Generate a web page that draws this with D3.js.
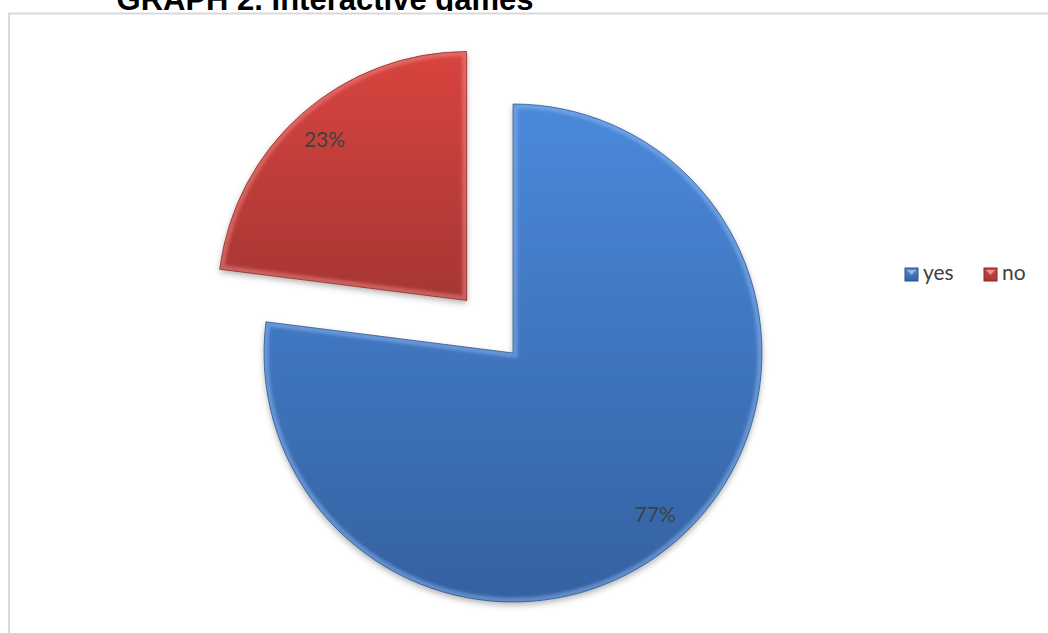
<!DOCTYPE html>
<html>
<head>
<meta charset="utf-8">
<script src="https://cdn.jsdelivr.net/npm/d3@7"></script>
<style>
  html, body { margin: 0; padding: 0; background: #fff; }
  svg { display: block; }
</style>
</head>
<body>
<svg id="chart" width="1048" height="633"></svg>
<script>
// Survey answers for the interactive games question
const categories = ["yes", "no"];
const values = [77, 23];
const labels = ["77%", "23%"];
const title = "GRAPH 2. Interactive games";

const W = 1048, H = 633;
const svg = d3.select("#chart");

const colors = d3.scaleOrdinal().domain(categories).range(["#4a89db", "#d9443f"]);
const darkColors = d3.scaleOrdinal().domain(categories).range(["#3461a0", "#a53633"]);
const edgeColors = d3.scaleOrdinal().domain(categories).range(["#2a5189", "#862826"]);
const lightColors = d3.scaleOrdinal().domain(categories).range(["#8fb8ef", "#f08a86"]);

const defs = svg.append("defs");

// Top-to-bottom gradient across each slice's own box
categories.forEach(c => {
  const g = defs.append("linearGradient")
    .attr("id", "grad-" + c)
    .attr("x1", 0).attr("y1", 0).attr("x2", 0).attr("y2", 1);
  g.append("stop").attr("offset", "0%").attr("stop-color", colors(c));
  g.append("stop").attr("offset", "100%").attr("stop-color", darkColors(c));
});

// Drop shadow under the slices
const shadow = defs.append("filter").attr("id", "shadow")
  .attr("x", "-10%").attr("y", "-10%").attr("width", "120%").attr("height", "125%");
shadow.append("feDropShadow").attr("dx", 0).attr("dy", 3)
  .attr("stdDeviation", 3).attr("flood-color", "#000").attr("flood-opacity", 0.3);

// Blur for the inner bevel rim
defs.append("filter").attr("id", "soft")
  .append("feGaussianBlur").attr("stdDeviation", 1.6);

// Title sits above the chart frame and is partly covered by it
svg.append("text")
  .attr("x", 325).attr("y", 10)
  .attr("text-anchor", "middle")
  .attr("font-family", "Liberation Sans, Arial, sans-serif")
  .attr("font-weight", "bold")
  .attr("font-size", 31)
  .attr("fill", "#000")
  .text(title);

// Chart area frame
svg.append("rect")
  .attr("x", 0).attr("y", 11)
  .attr("width", W).attr("height", H)
  .attr("fill", "#fff");
svg.append("rect")
  .attr("x", 9).attr("y", 13.5)
  .attr("width", W + 20).attr("height", H + 20)
  .attr("fill", "#fff")
  .attr("stroke", "#d9d9d9").attr("stroke-width", 2);

// Pie
const cx = 513, cy = 353, radius = 249;
const explode = { no: 70, yes: 0 };
const labelRadius = 215;

const pie = d3.pie().sort(null).value(d => d.value);
const data = pie(categories.map((c, i) => ({ cat: c, value: values[i], label: labels[i] })));
const arc = d3.arc().innerRadius(0).outerRadius(radius);
const labelArc = d3.arc().innerRadius(labelRadius).outerRadius(labelRadius);

const offset = d => {
  const a = (d.startAngle + d.endAngle) / 2;
  const e = explode[d.data.cat];
  return [Math.sin(a) * e, -Math.cos(a) * e];
};

const slices = svg.append("g").attr("transform", `translate(${cx},${cy})`);

// Clip paths, one per slice, to keep the bevel rim inside
data.forEach(d => {
  defs.append("clipPath").attr("id", "clip-" + d.data.cat)
    .append("path").attr("d", arc(d));
});

const sliceG = slices.selectAll("g.slice")
  .data(data)
  .join("g")
  .attr("class", "slice")
  .attr("transform", d => `translate(${offset(d)})`);

sliceG.append("path")
  .attr("d", arc)
  .attr("fill", d => `url(#grad-${d.data.cat})`)
  .attr("filter", "url(#shadow)");

// Bevel: light rim then a thin dark outline
sliceG.append("g")
  .attr("clip-path", d => `url(#clip-${d.data.cat})`)
  .append("path")
  .attr("d", arc)
  .attr("fill", "none")
  .attr("stroke", d => lightColors(d.data.cat))
  .attr("stroke-width", 9)
  .attr("stroke-opacity", 0.5)
  .attr("filter", "url(#soft)");

sliceG.append("path")
  .attr("d", arc)
  .attr("fill", "none")
  .attr("stroke", d => edgeColors(d.data.cat))
  .attr("stroke-width", 1)
  .attr("stroke-opacity", 0.7);

slices.selectAll("text.value")
  .data(data)
  .join("text")
  .attr("class", "value")
  .attr("transform", d => {
    const [ox, oy] = offset(d);
    const [lx, ly] = labelArc.centroid(d);
    return `translate(${lx + ox},${ly + oy})`;
  })
  .attr("text-anchor", "middle")
  .attr("dy", "0.36em")
  .attr("font-family", "Lato, 'Open Sans', sans-serif")
  .attr("font-size", 21)
  .attr("fill", "#404040")
  .text(d => d.data.label);

// Legend
const legend = svg.append("g").attr("transform", "translate(905,268)");
const legendX = d3.scaleOrdinal().domain(categories).range([0, 79]);
const items = legend.selectAll("g.item")
  .data(categories)
  .join("g")
  .attr("class", "item")
  .attr("transform", c => `translate(${legendX(c)},0)`);
items.append("rect")
  .attr("width", 13).attr("height", 13)
  .attr("fill", c => `url(#grad-${c})`)
  .attr("stroke", c => edgeColors(c)).attr("stroke-width", 1);
items.append("path")
  .attr("d", "M2,2 L11,2 L6.5,7 Z")
  .attr("fill", "#fff").attr("opacity", 0.45);
items.append("text")
  .attr("x", 18).attr("y", 12)
  .attr("font-family", "Lato, 'Open Sans', sans-serif")
  .attr("font-size", 21)
  .attr("fill", "#404040")
  .text(c => c);
</script>
</body>
</html>
